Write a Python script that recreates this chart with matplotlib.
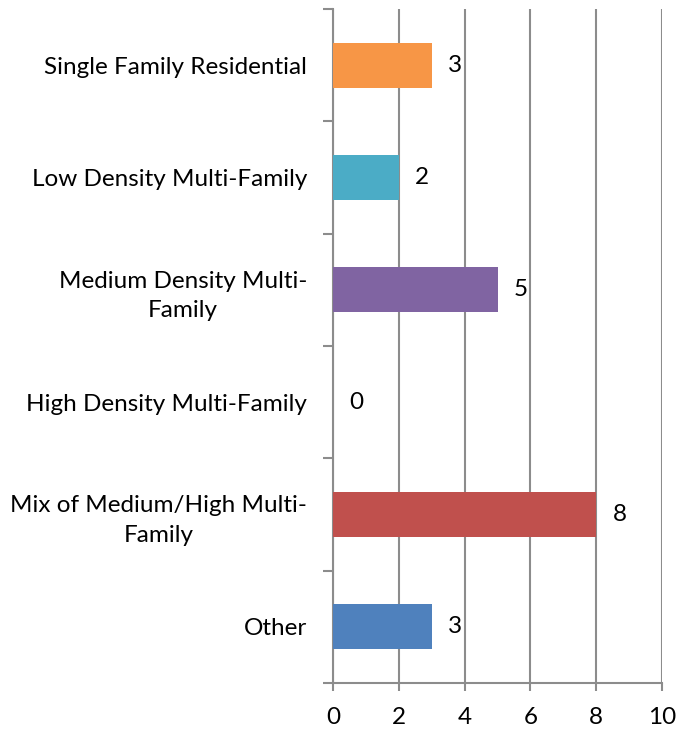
import matplotlib.pyplot as plt

categories = ['Single Family Residential', 'Low Density Multi-Family',
              'Medium Density Multi-\nFamily', 'High Density Multi-Family',
              'Mix of Medium/High Multi-\nFamily', 'Other']
values = [3, 2, 5, 0, 8, 3]
colors = ['#F79646', '#4BACC6', '#8064A2', '#4F81BD', '#C0504D', '#4F81BD']

plt.rcParams['font.family'] = ['Lato', 'DejaVu Sans']
grey = '#8c8c8c'
fs = 17.5

fig = plt.figure(figsize=(6.78, 7.33), dpi=100)
ax = fig.add_axes([333 / 678, 50 / 733, 329 / 678, 674 / 733])

n = len(categories)
ypos = [n - 1 - i for i in range(n)]
ax.barh(ypos, values, height=0.4, color=colors, zorder=3)
for y, v in zip(ypos, values):
    ax.text(v + 0.5, y, str(v), va='center', ha='left', fontsize=fs)

ax.set_xlim(0, 10)
ax.set_ylim(-0.5, n - 0.5)
ax.set_xticks(range(0, 11, 2))
ax.set_yticks([i - 0.5 for i in range(n + 1)], minor=False)
ax.set_yticklabels([])
ax.set_yticks(ypos, minor=True)
ax.set_yticklabels(categories, minor=True, ha='right', multialignment='center',
                   linespacing=1.5)
ax.tick_params(axis='y', which='minor', length=0, pad=18.5, labelsize=fs)
ax.tick_params(axis='y', which='major', length=7, width=1.5, color=grey, direction='out')
ax.tick_params(axis='x', length=6, width=1.5, color=grey, labelsize=fs, pad=11)
ax.xaxis.grid(True, color=grey, linewidth=1.5, zorder=0)

for side in ['top', 'right']:
    ax.spines[side].set_visible(False)
for side in ['left', 'bottom']:
    ax.spines[side].set_color(grey)
    ax.spines[side].set_linewidth(1.5)

fig.savefig('out.png', dpi=100)
